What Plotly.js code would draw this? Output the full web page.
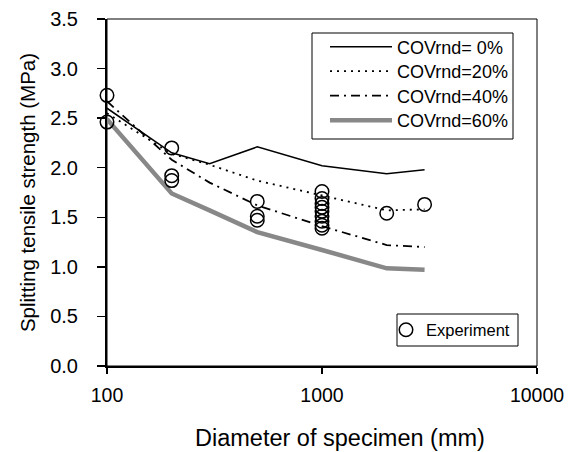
<!DOCTYPE html>
<html>
<head>
<meta charset="utf-8">
<script src="https://cdn.plot.ly/plotly-3.0.1.min.js"></script>
<style>html,body{margin:0;padding:0;background:#fff;}#chart{width:579px;height:452px;}</style>
</head>
<body>
<div id="chart"></div>
<script>
// Model curves (diameter in mm, strength in MPa)
const diam = [100, 200, 300, 500, 1000, 2000, 3000];
const cov0 = [2.60, 2.15, 2.04, 2.21, 2.02, 1.94, 1.98];
const cov20 = [2.55, 2.14, 2.03, 1.87, 1.72, 1.57, 1.58];
const cov40 = [2.67, 2.08, 1.85, 1.62, 1.41, 1.22, 1.20];
const cov60 = [2.49, 1.74, 1.57, 1.35, 1.17, 0.985, 0.97];

// Experimental data
const expD = [100, 100, 200, 200, 200, 500, 500, 500,
  1000, 1000, 1000, 1000, 1000, 1000, 1000, 1000, 1000, 2000, 3000];
const expS = [2.73, 2.46, 2.20, 1.92, 1.87, 1.66, 1.51, 1.47,
  1.76, 1.69, 1.64, 1.60, 1.56, 1.51, 1.46, 1.42, 1.39, 1.54, 1.63];

const seriesNames = ['COVrnd= 0%', 'COVrnd=20%', 'COVrnd=40%', 'COVrnd=60%'];
const xTickVals = [100, 1000, 10000];
const xTickText = ['100', '1000', '10000'];

const font = "Liberation Sans, Arial, sans-serif";

// plot-area pixel helpers for placing legend boxes (paper coords)
const PL = 107, PR = 537, PT = 19, PB = 366;
const px = v => (v - PL) / (PR - PL);
const py = v => (PB - v) / (PB - PT);

const traces = [
  {x: diam, y: cov0, mode: 'lines', name: seriesNames[0], legend: 'legend',
   line: {color: '#000', width: 1.5, dash: 'solid'}},
  {x: diam, y: cov20, mode: 'lines', name: seriesNames[1], legend: 'legend3',
   line: {color: '#000', width: 1.8, dash: '2px,5px'}},
  {x: diam, y: cov40, mode: 'lines', name: seriesNames[2], legend: 'legend4',
   line: {color: '#000', width: 1.8, dash: '9px,5px,2px,5px'}},
  {x: diam, y: cov60, mode: 'lines', name: seriesNames[3], legend: 'legend5',
   line: {color: '#888', width: 4.5, dash: 'solid'}},
  {x: expD, y: expS, mode: 'markers', name: 'Experiment', legend: 'legend2', cliponaxis: false,
   marker: {symbol: 'circle-open', size: 13.5, color: '#000', line: {width: 1.5, color: '#000'}}}
];

const rowY = [47, 71.5, 96, 120.5];
function rowLegend(i) {
  return {
    x: px(325), y: py(rowY[i]), xanchor: 'left', yanchor: 'middle',
    bgcolor: 'rgba(0,0,0,0)', borderwidth: 0,
    font: {size: 18}, itemwidth: 62
  };
}

const layout = {
  width: 579, height: 452,
  margin: {l: PL, r: 579 - PR, t: PT, b: 452 - PB},
  paper_bgcolor: '#fff', plot_bgcolor: '#fff',
  font: {family: font, color: '#000', size: 19},
  showlegend: true,
  xaxis: {
    type: 'log', range: [2, 4],
    tickvals: xTickVals, ticktext: xTickText,
    ticks: 'outside', ticklen: 6, tickwidth: 1.5, tickcolor: '#000',
    ticklabelstandoff: 5,
    showline: true, linewidth: 2, linecolor: '#000',
    showgrid: false, zeroline: false,
    tickfont: {size: 19.5}
  },
  yaxis: {
    range: [0, 3.5], dtick: 0.5, tick0: 0, tickformat: '.1f',
    ticks: 'outside', ticklen: 8, tickwidth: 1.5, tickcolor: '#000',
    ticklabelstandoff: 15,
    showline: true, linewidth: 2, linecolor: '#000',
    showgrid: false, zeroline: false,
    tickfont: {size: 20},
    title: {text: 'Splitting tensile strength (MPa)', font: {size: 20.5}, standoff: 9}
  },
  annotations: [
    {text: 'Diameter of specimen (mm)', xref: 'paper', yref: 'paper',
     x: px(340), y: py(438), xanchor: 'center', yanchor: 'middle',
     showarrow: false, font: {size: 23.5}}
  ],
  shapes: [
    {type: 'rect', xref: 'paper', yref: 'paper', x0: 0, x1: 1, y0: 0, y1: 1,
     line: {color: '#000', width: 1}, layer: 'below'},
    {type: 'rect', xref: 'paper', yref: 'paper', x0: px(312), x1: px(513), y0: py(139), y1: py(33),
     line: {color: '#000', width: 1}, fillcolor: '#fff', layer: 'above'},
    {type: 'rect', xref: 'paper', yref: 'paper', x0: px(397), x1: px(518), y0: py(346), y1: py(314),
     line: {color: '#000', width: 1}, fillcolor: '#fff', layer: 'above'}
  ],
  legend: rowLegend(0),
  legend3: rowLegend(1),
  legend4: rowLegend(2),
  legend5: rowLegend(3),
  legend2: {
    x: px(386), y: py(330), xanchor: 'left', yanchor: 'middle',
    bgcolor: 'rgba(0,0,0,0)', borderwidth: 0,
    font: {size: 16.5}, itemwidth: 30
  }
};

Plotly.newPlot('chart', traces, layout, {displayModeBar: false, staticPlot: true});
</script>
</body>
</html>
